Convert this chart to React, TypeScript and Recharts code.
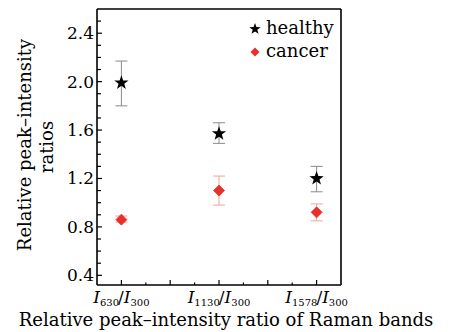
import React from "react";
import { ScatterChart, Scatter, XAxis, YAxis, ErrorBar, ReferenceLine, Legend } from "recharts";

const xPositions = [1, 5, 9];
const numerators = ["630", "1130", "1578"];
const denominator = "300";
const healthy = [1.99, 1.57, 1.2];
const healthyErrDown = [0.19, 0.08, 0.11];
const healthyErrUp = [0.18, 0.09, 0.1];
const cancer = [0.86, 1.1, 0.92];
const cancerErrDown = [0.02, 0.12, 0.07];
const cancerErrUp = [0.03, 0.12, 0.07];
const xTicks = [1, 2, 3, 4, 5, 6, 7, 8, 9];
const yTicks = [0.4, 0.5, 0.6, 0.7, 0.8, 0.9, 1.0, 1.1, 1.2, 1.3, 1.4, 1.5, 1.6, 1.7, 1.8, 1.9, 2.0, 2.1, 2.2, 2.3, 2.4, 2.5];
const yLabels = [0.4, 0.8, 1.2, 1.6, 2.0, 2.4];

const healthyData = xPositions.map((x, i) => ({ x, y: healthy[i], err: [healthyErrDown[i], healthyErrUp[i]] }));
const cancerData = xPositions.map((x, i) => ({ x, y: cancer[i], err: [cancerErrDown[i], cancerErrUp[i]] }));

const FONT = "DejaVu Serif";
const RED = "#e8302a";

function starPoints(cx: number, cy: number, R: number) {
  const r = R * 0.4;
  const pts: string[] = [];
  for (let k = 0; k < 10; k++) {
    const rad = k % 2 === 0 ? R : r;
    const a = -Math.PI / 2 + (k * Math.PI) / 5;
    pts.push(`${cx + rad * Math.cos(a)},${cy + rad * Math.sin(a)}`);
  }
  return pts.join(" ");
}
function diamondPoints(cx: number, cy: number, h: number) {
  return `${cx},${cy - h} ${cx + h},${cy} ${cx},${cy + h} ${cx - h},${cy}`;
}

const StarShape = (p: any) => <polygon points={starPoints(p.cx, p.cy, 7.5)} fill="#000" />;
const DiamondShape = (p: any) => <polygon points={diamondPoints(p.cx, p.cy, 5.5)} fill={RED} stroke={RED} strokeWidth={0.8} strokeLinejoin="round" />;

const YTick = (props: any) => {
  const { x, y, payload } = props;
  const v = payload.value;
  const isLabel = yLabels.some((l) => Math.abs(l - v) < 1e-6);
  const len = isLabel ? 5 : 4;
  return (
    <g>
      <line x1={x} x2={x + len} y1={y} y2={y} stroke="#000" strokeWidth={1.2} />
      {isLabel && (
        <text x={x - 3} y={y} textAnchor="end" dominantBaseline="central" fontFamily={FONT} fontSize={17} fill="#000">
          {v.toFixed(1)}
        </text>
      )}
    </g>
  );
};

const XTick = (props: any) => {
  const { x, y, payload } = props;
  const v = payload.value;
  const idx = xPositions.indexOf(v);
  const major = v % 2 === 1;
  const len = major ? 5 : 2.5;
  return (
    <g>
      <line x1={x} x2={x} y1={y} y2={y - len} stroke="#000" strokeWidth={1.2} />
      {idx >= 0 && (
        <text x={x} y={y + 18} textAnchor="middle" fontFamily={FONT} fill="#000">
          <tspan fontSize={17} fontStyle="italic">I</tspan>
          <tspan fontSize={10} dy={3}>{numerators[idx]}</tspan>
          <tspan fontSize={17} dy={-3} dx={-1}>/</tspan>
          <tspan fontSize={17} fontStyle="italic">I</tspan>
          <tspan fontSize={10} dy={3}>{denominator}</tspan>
        </text>
      )}
    </g>
  );
};

const LegendContent = () => (
  <svg width={110} height={50} style={{ display: "block" }}>
    <polygon points={starPoints(10, 14, 6)} fill="#000" />
    <text x={21} y={19} fontFamily={FONT} fontSize={18} fill="#000">healthy</text>
    <polygon points={diamondPoints(10, 37, 4.5)} fill={RED} />
    <text x={21} y={42} fontFamily={FONT} fontSize={18} fill="#000">cancer</text>
  </svg>
);

export default function App() {
  return (
    <div style={{ position: "absolute", left: 0, top: 0, width: 449, height: 332, background: "#fff" }}>
      <ScatterChart width={449} height={332} margin={{ top: 9, right: 108, bottom: 46, left: 96 }}>
        <XAxis
          type="number"
          dataKey="x"
          domain={[0, 10]}
          ticks={xTicks}
          interval={0}
          height={1}
          tickSize={0}
          tickMargin={0}
          tickLine={false}
          axisLine={{ stroke: "#000", strokeWidth: 1.6 }}
          tick={<XTick />}
          allowDataOverflow
        />
        <YAxis
          type="number"
          dataKey="y"
          domain={[0.32, 2.6]}
          ticks={yTicks}
          interval={0}
          width={1}
          tickSize={0}
          tickMargin={0}
          tickLine={false}
          axisLine={{ stroke: "#000", strokeWidth: 1.6 }}
          tick={<YTick />}
          allowDataOverflow
        />
        <ReferenceLine y={2.6} stroke="#000" strokeWidth={1.6} />
        <ReferenceLine x={10} stroke="#000" strokeWidth={1.6} />
        <Legend
          layout="vertical"
          align="center"
          verticalAlign="middle"
          wrapperStyle={{ left: 245, top: 15, width: 110, height: 50 }}
          content={<LegendContent />}
        />
        <Scatter name="healthy" data={healthyData} shape={StarShape} isAnimationActive={false}>
          <ErrorBar dataKey="err" direction="y" width={6} stroke="#8a8a8a" strokeWidth={1} />
        </Scatter>
        <Scatter name="cancer" data={cancerData} shape={DiamondShape} isAnimationActive={false}>
          <ErrorBar dataKey="err" direction="y" width={6} stroke="#f2a595" strokeWidth={1} />
        </Scatter>
        <text x={24} y={145} transform="rotate(-90 24 145)" textAnchor="middle" dominantBaseline="central" fontFamily={FONT} fontSize={18} fill="#000">
          Relative peak–intensity
        </text>
        <text x={46} y={147} transform="rotate(-90 46 147)" textAnchor="middle" dominantBaseline="central" fontFamily={FONT} fontSize={18} fill="#000">
          ratios
        </text>
        <text x={226} y={326} textAnchor="middle" fontFamily={FONT} fontSize={18} fill="#000">
          Relative peak–intensity ratio of Raman bands
        </text>
      </ScatterChart>
    </div>
  );
}
